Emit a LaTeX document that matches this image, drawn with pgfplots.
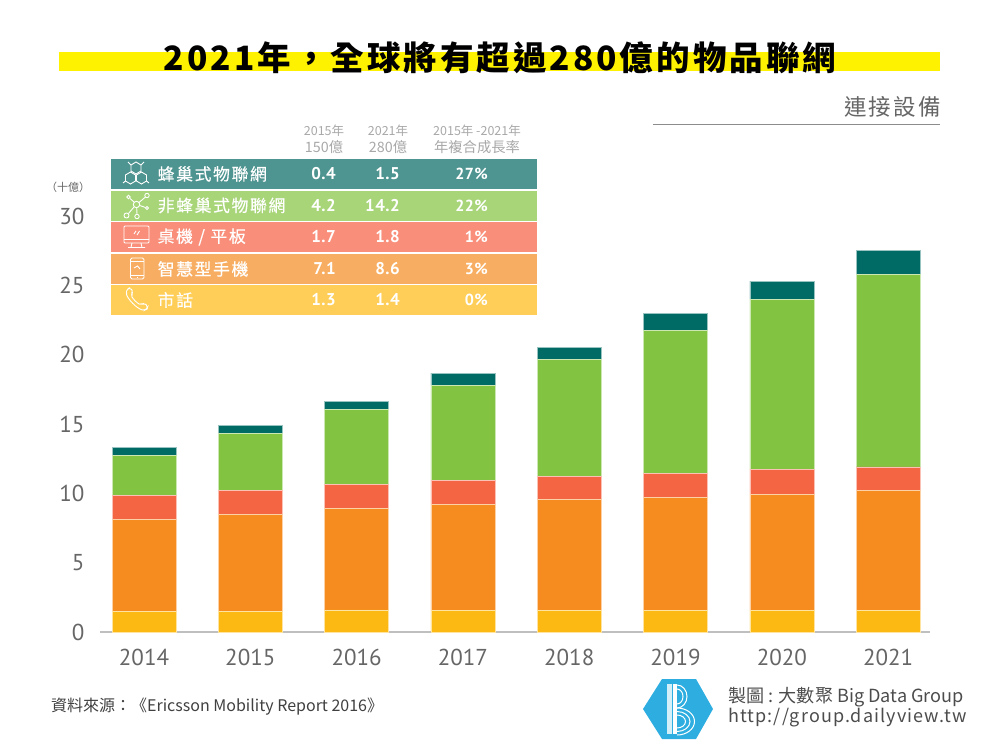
\documentclass[border=0pt]{standalone}
\usepackage{fontspec}
\usepackage{pgfplots}
\usepackage{pgfplotstable}
\pgfplotsset{compat=1.18}
\setmainfont{PT Sans}
\newfontfamily\cjk{Noto Sans CJK TC}
\newfontfamily\cjkT[LetterSpace=9]{Noto Sans CJK TC}
\newfontfamily\cjkL[LetterSpace=10]{Noto Sans CJK TC}
\newfontfamily\cjkR[LetterSpace=10,FakeBold=0.4]{Noto Sans CJK TC}
\newfontfamily\credit[LetterSpace=6]{Noto Sans CJK TC}
\newfontfamily\numf[LetterSpace=3]{PT Sans}
\definecolor{cTeal}{HTML}{006A64}
\definecolor{cGreen}{HTML}{82C341}
\definecolor{cRed}{HTML}{F46544}
\definecolor{cOrange}{HTML}{F68B1F}
\definecolor{cYellow}{HTML}{FDB913}
\definecolor{rTeal}{HTML}{4E9490}
\definecolor{rGreen}{HTML}{A7D578}
\definecolor{rRed}{HTML}{F98F7A}
\definecolor{rOrange}{HTML}{F8AE62}
\definecolor{rYellow}{HTML}{FECE58}
\definecolor{band}{HTML}{FFF200}
\definecolor{txt}{HTML}{666666}
\definecolor{hdr}{HTML}{A8A8A8}
\definecolor{logo}{HTML}{2EAEE0}
\pgfplotstableread{
x fixed mobile pc noncell cell
0 1.50 6.64 1.73 2.88 0.58
1 1.50 7.00 1.74 4.11 0.57
2 1.60 7.34 1.73 5.41 0.57
3 1.58 7.65 1.73 6.84 0.87
4 1.58 8.01 1.66 8.43 0.87
5 1.58 8.15 1.73 10.31 1.23
6 1.58 8.37 1.80 12.25 1.30
7 1.58 8.66 1.66 13.90 1.74
}\devices
\begin{document}
\begin{tikzpicture}
\path (0,0) rectangle (1000pt,750pt);
\begin{axis}[
  at={(100pt,118pt)}, anchor=south west,
  scale only axis, width=830pt, height=416pt,
  ybar stacked, bar width=64pt,
  xmin=-0.414, xmax=7.394, ymin=0, ymax=30,
  xtick=data, xticklabels={2014,2015,2016,2017,2018,2019,2020,2021},
  ytick={0,5,10,15,20,25,30},
  axis x line*=bottom, axis y line*=left,
  y axis line style={draw=none},
  x axis line style={draw=black!25, line width=1.5pt, -},
  major tick length=0pt,
  /pgf/number format/assume math mode=true,
  tick label style={font=\fontsize{23}{24}\selectfont, text=txt},
  xticklabel style={yshift=-14pt},
  yticklabel style={xshift=-12pt},
  clip=false,
]
\addplot[fill=cYellow, draw=white!60!cYellow, line width=0.6pt] table[x=x,y=fixed] {\devices};
\addplot[fill=cOrange, draw=white!60!cOrange, line width=0.6pt] table[x=x,y=mobile] {\devices};
\addplot[fill=cRed, draw=white!60!cRed, line width=0.6pt] table[x=x,y=pc] {\devices};
\addplot[fill=cGreen, draw=white!60!cGreen, line width=0.6pt] table[x=x,y=noncell] {\devices};
\addplot[fill=cTeal, draw=white!60!cTeal, line width=0.6pt] table[x=x,y=cell] {\devices};
\end{axis}
\begin{scope}[x=1pt,y=-1pt,yshift=750pt]
% title
\fill[band] (59,52) rectangle (940,71);
\node at (500,58) {\cjkT\bfseries\fontsize{33.5}{34}\selectfont 2021年^^^^ff0c全球將有超過280億的物品聯網};
\node[anchor=east, text=txt, inner sep=0] at (941,107) {\cjkL\fontsize{22.5}{24}\selectfont 連接設備};
\draw[black!45, line width=1pt] (653,124.5) -- (940,124.5);
\node[text=txt] at (68,187) {\cjk\fontsize{11}{12}\selectfont ^^^^ff08十億^^^^ff09};
% table header
\foreach \x/\a/\b in {324/2015年/150億, 388/2021年/280億, 477/2015年 -2021年/年複合成長率}{
  \node[text=hdr] at (\x,131) {\cjk\fontsize{12.5}{13}\selectfont \a};
  \node[text=hdr] at (\x,147) {\cjk\fontsize{14.3}{15}\selectfont \b};
}
% rows
\fill[rTeal] (111,159.5) rectangle (537,189);
\fill[rGreen] (111,191) rectangle (537,221);
\fill[rRed] (111,222.5) rectangle (537,252.5);
\fill[rOrange] (111,254) rectangle (537,284);
\fill[rYellow] (111,285.5) rectangle (537,315);
\foreach \y/\lab/\a/\b/\c in {
  174/蜂巢式物聯網/0.4/1.5/27\%,
  205.5/非蜂巢式物聯網/4.2/14.2/22\%,
  237/{桌機 / 平板}/1.7/1.8/1\%,
  269/智慧型手機/7.1/8.6/3\%,
  300/市話/1.3/1.4/0\%}{
  \node[anchor=west, text=white, inner sep=0] at (157.5,\y) {\cjkR\fontsize{16.8}{18}\selectfont\lab};
  \node[anchor=east, text=white, inner sep=0] at (336,\y) {\numf\bfseries\fontsize{17}{18}\selectfont\a};
  \node[anchor=east, text=white, inner sep=0] at (400,\y) {\numf\bfseries\fontsize{17}{18}\selectfont\b};
  \node[anchor=east, text=white, inner sep=0] at (488,\y) {\numf\bfseries\fontsize{16}{18}\selectfont\c};
}
% icons
\begin{scope}[draw=white, line width=0.9pt]
% cellular: hexagons
\foreach \cx/\cy in {136/168, 130.5/178, 141.5/178}{
  \draw (\cx-5,\cy-3) -- (\cx,\cy-6) -- (\cx+5,\cy-3) -- (\cx+5,\cy+3) -- (\cx,\cy+6) -- (\cx-5,\cy+3) -- cycle;
}
\draw (131,165) -- (128,162) (141,165) -- (144,162) (125.5,181) -- (123,183) (146.5,181) -- (149,183);
% network
\draw (136.5,204.5) circle (3.2);
\draw (147,195.5) circle (2.2) (128.5,197) circle (1.8) (126.5,215.5) circle (2.5) (137,216.5) circle (2.2) (147,208) circle (1.5);
\draw (134,202) -- (130,198.5) (139,202.5) -- (145.5,197) (134,207) -- (128.5,213.5) (136.7,207.7) -- (137,214.3) (139.7,205.5) -- (145.5,207.5);
% monitor
\draw[rounded corners=1pt] (124,226) rectangle (149,243);
\draw (124,239.5) -- (149,239.5) (132,243) -- (131,247.5) (141,243) -- (142,247.5) (128,247.5) -- (145,247.5);
\draw (134,234) -- (136,231) (137,235) -- (139.5,231);
% phone
\draw[rounded corners=1.5pt] (130.5,258) rectangle (144,279);
\draw (130.5,261.5) -- (144,261.5) (130.5,275.5) -- (144,275.5) (137.3,277) -- (137.3,277.6);
\draw (134,268) -- (137.5,266) -- (140,269);
% handset
\draw[rounded corners=2pt] (127,289) -- (130.5,287.5) -- (133,292.5) -- (131,295) .. controls (133,299) and (137,303) .. (141,305) -- (143.5,303) -- (148,306) -- (147,309) -- (144,310.5) .. controls (136,308) and (128,299) .. (126,293) -- cycle;
\end{scope}
% source
\node[anchor=west, text=black!75, inner sep=0] at (51,707) {\cjk\fontsize{16}{17}\selectfont 資料來源^^^^ff1a《Ericsson Mobility Report 2016》};
% logo
\fill[logo] (643,709) -- (662,679) -- (696,679) -- (713,709) -- (696,739) -- (662,739) -- cycle;
\fill[white!80!logo] (667,684) rectangle (671.5,734);
\fill[white] (673,684) rectangle (677,734);
\begin{scope}[draw=white, line width=1pt]
\draw (677,685) arc[start angle=-90, end angle=90, x radius=10, y radius=11.5];
\draw (677,689) arc[start angle=-90, end angle=90, x radius=6, y radius=7.5];
\draw (677,708) arc[start angle=-90, end angle=90, x radius=17.5, y radius=13.5];
\draw (677,711.5) arc[start angle=-90, end angle=90, x radius=13, y radius=10];
\draw (677,715) arc[start angle=-90, end angle=90, x radius=8.5, y radius=6.5];
\end{scope}
\node[anchor=west, text=black!70, inner sep=0] at (728,697) {\cjk\fontsize{18.1}{19}\selectfont 製圖 : 大數聚 Big Data Group};
\node[anchor=west, text=black!70, inner sep=0] at (728,718) {\credit\fontsize{18}{19}\selectfont http://group.dailyview.tw};
\end{scope}
\end{tikzpicture}
\end{document}
